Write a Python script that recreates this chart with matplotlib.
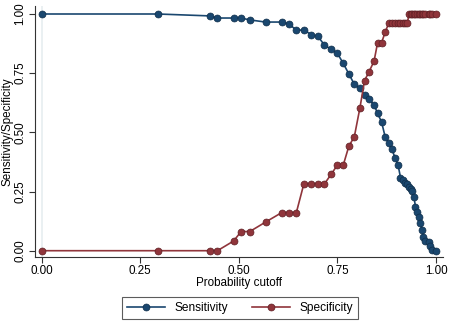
import matplotlib
matplotlib.use("Agg")
import matplotlib.pyplot as plt
from matplotlib.lines import Line2D

plt.rcParams['font.family'] = ['Liberation Sans', 'DejaVu Sans']

cutoff = [0, 0.295, 0.426, 0.446, 0.487, 0.506, 0.528, 0.568, 0.609, 0.627,
          0.646, 0.665, 0.684, 0.701, 0.717, 0.734, 0.750, 0.765, 0.779, 0.793,
          0.807, 0.819, 0.830, 0.843, 0.852, 0.862, 0.871, 0.880, 0.888, 0.897,
          0.904, 0.910, 0.916, 0.921, 0.927, 0.932, 0.937, 0.940, 0.944, 0.948,
          0.953, 0.957, 0.960, 0.965, 0.968, 0.972, 0.981, 0.985, 0.991, 1.0]

sensitivity = [1.0, 1.0, 0.992, 0.983, 0.983, 0.983, 0.975, 0.966, 0.966, 0.958,
               0.932, 0.932, 0.913, 0.905, 0.869, 0.851, 0.834, 0.791, 0.747, 0.703,
               0.686, 0.658, 0.641, 0.616, 0.580, 0.544, 0.482, 0.456, 0.428, 0.390,
               0.361, 0.309, 0.297, 0.288, 0.280, 0.271, 0.261, 0.252, 0.227, 0.186,
               0.163, 0.144, 0.116, 0.087, 0.058, 0.043, 0.035, 0.018, 0.005, 0.0]

specificity = [0, 0, 0, 0, 0.041, 0.081, 0.081, 0.121, 0.161, 0.161,
               0.161, 0.282, 0.282, 0.282, 0.282, 0.322, 0.362, 0.362, 0.441, 0.482,
               0.602, 0.719, 0.755, 0.801, 0.879, 0.879, 0.922, 0.961, 0.961, 0.961,
               0.961, 0.961, 0.961, 0.961, 0.961, 1.0, 1.0, 1.0, 1.0, 1.0,
               1.0, 1.0, 1.0, 1.0, 1.0, 1.0, 1.0, 1.0, 1.0, 1.0]

ticks = [0, 0.25, 0.5, 0.75, 1.0]
tick_labels = ["0.00", "0.25", "0.50", "0.75", "1.00"]

blue = "#1a476f"
red = "#90353b"

W, H = 450, 322
fig = plt.figure(figsize=(W / 100, H / 100), dpi=100)
ax = fig.add_axes([35 / W, (H - 257) / H, (443 - 35) / W, (257 - 6) / H])

ax.axvline(0, color="#e6eef0", lw=1.2, zorder=0)

ms = 5.0
ax.plot(cutoff, sensitivity, color=blue, lw=1.2, marker="o", markersize=ms,
        markerfacecolor=blue, markeredgecolor="#0f2e4a", markeredgewidth=0.5,
        label="Sensitivity", zorder=3)
ax.plot(cutoff, specificity, color=red, lw=1.2, marker="o", markersize=ms,
        markerfacecolor=red, markeredgecolor="#5e1f24", markeredgewidth=0.5,
        label="Specificity", zorder=3)

ax.set_xlim((35 - 41.5) / 394.5, (443 - 41.5) / 394.5)
ax.set_ylim(-(257 - 250.7) / 236.7, (250.7 - 6) / 236.7)

fs = 8.4
ax.set_xticks(ticks)
ax.set_xticklabels(tick_labels, fontsize=fs)
ax.set_yticks(ticks)
ax.set_yticklabels(tick_labels, fontsize=fs, rotation=90, va="center")

for s in ["top", "right"]:
    ax.spines[s].set_visible(False)
for s in ["left", "bottom"]:
    ax.spines[s].set_color("#333333")
    ax.spines[s].set_linewidth(0.8)
ax.tick_params(direction="out", length=4, width=0.8, color="#333333", pad=2)

ax.set_xlabel("Probability cutoff", fontsize=fs, labelpad=0)
ax.set_ylabel("Sensitivity/Specificity", fontsize=fs, labelpad=1)

handles = [Line2D([0], [0], color=blue, lw=1.2, marker="o", markersize=ms,
                  markerfacecolor=blue, markeredgecolor="#0f2e4a", markeredgewidth=0.5),
           Line2D([0], [0], color=red, lw=1.2, marker="o", markersize=ms,
                  markerfacecolor=red, markeredgecolor="#5e1f24", markeredgewidth=0.5)]
leg = fig.legend(handles, ["Sensitivity", "Specificity"], loc="center",
                 bbox_to_anchor=(240 / W, 1 - 308 / H), ncol=2, fontsize=8.6,
                 frameon=True, fancybox=False, edgecolor="#333333",
                 handlelength=3.2, columnspacing=2.0, handletextpad=0.8,
                 borderpad=0.4)
leg.get_frame().set_linewidth(0.8)

fig.savefig("out.png", dpi=100)
